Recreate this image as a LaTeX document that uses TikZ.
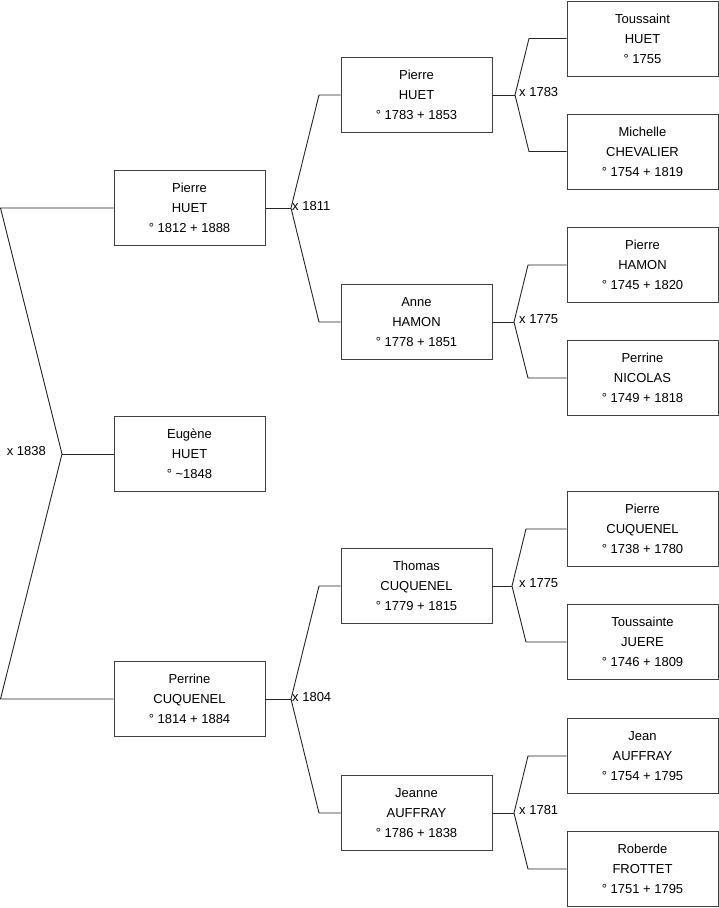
\documentclass[tikz,border=0pt]{standalone}
\usepackage{fontspec}
\setmainfont{Liberation Sans}
\begin{document}
\begin{tikzpicture}[x=1pt,y=-1pt,
  pbox/.style={draw=black!75,line width=0.9pt,minimum width=151pt,minimum height=75pt,
    align=center,inner sep=0pt,font=\fontsize{13}{20}\selectfont,text=black},
  link/.style={draw=black!85,line width=0.9pt},
  mlabel/.style={anchor=west,inner sep=0pt,font=\fontsize{13}{15}\selectfont,text=black}]
\useasboundingbox (0,0) rectangle (719,908);
% generation 1
\node[pbox] (a1) at (189.5,208) {Pierre\\HUET\\° 1812 + 1888};
\node[pbox] (a0) at (189.5,454) {Eugène\\HUET\\° \textasciitilde1848};
\node[pbox] (a2) at (189.5,699) {Perrine\\CUQUENEL\\° 1814 + 1884};
% generation 2
\node[pbox] (b1) at (416.5,95) {Pierre\\HUET\\° 1783 + 1853};
\node[pbox] (b2) at (416.5,322) {Anne\\HAMON\\° 1778 + 1851};
\node[pbox] (b3) at (416.5,586) {Thomas\\CUQUENEL\\° 1779 + 1815};
\node[pbox] (b4) at (416.5,813) {Jeanne\\AUFFRAY\\° 1786 + 1838};
% generation 3
\node[pbox] (c1) at (642.5,38.5) {Toussaint\\HUET\\° 1755};
\node[pbox] (c2) at (642.5,151.5) {Michelle\\CHEVALIER\\° 1754 + 1819};
\node[pbox] (c3) at (642.5,265) {Pierre\\HAMON\\° 1745 + 1820};
\node[pbox] (c4) at (642.5,378) {Perrine\\NICOLAS\\° 1749 + 1818};
\node[pbox] (c5) at (642.5,529) {Pierre\\CUQUENEL\\° 1738 + 1780};
\node[pbox] (c6) at (642.5,642) {Toussainte\\JUERE\\° 1746 + 1809};
\node[pbox] (c7) at (642.5,756) {Jean\\AUFFRAY\\° 1754 + 1795};
\node[pbox] (c8) at (642.5,869) {Roberde\\FROTTET\\° 1751 + 1795};
% union of a1 and a2
\coordinate (v0) at (62,454);
\coordinate (e01) at (0.5,208);
\coordinate (e02) at (0.5,699);
\draw[link] (a1.west) -- (e01) -- (v0) -- (e02) -- (a2.west);
\draw[link] (a0.west) -- (v0);
\node[mlabel,anchor=east] (l0) at (46,451) {x 1838};
% union of b1 and b2
\coordinate (v1) at (291,208);
\coordinate (e11) at (319,95);
\coordinate (e12) at (319,322);
\draw[link] (a1.east) -- (v1);
\draw[link] (b1.west) -- (e11) -- (v1) -- (e12) -- (b2.west);
\node[mlabel] (l1) at (292,206.5) {x 1811};
% union of c1 and c2 (b3/b4)
\coordinate (v2) at (291,699);
\coordinate (e21) at (319,586);
\coordinate (e22) at (319,813);
\draw[link] (a2.east) -- (v2);
\draw[link] (b3.west) -- (e21) -- (v2) -- (e22) -- (b4.west);
\node[mlabel] (l2) at (292,697.5) {x 1804};
% union of c1 and c2
\coordinate (v3) at (515,95);
\coordinate (e31) at (529,38.5);
\coordinate (e32) at (529,151.5);
\draw[link] (b1.east) -- (v3);
\draw[link] (c1.west) -- (e31) -- (v3) -- (e32) -- (c2.west);
\node[mlabel] (l3) at (519,92) {x 1783};
% union of c3 and c4
\coordinate (v4) at (514,322);
\coordinate (e41) at (528,265);
\coordinate (e42) at (528,378);
\draw[link] (b2.east) -- (v4);
\draw[link] (c3.west) -- (e41) -- (v4) -- (e42) -- (c4.west);
\node[mlabel] (l4) at (519,319) {x 1775};
% union of c5 and c6
\coordinate (v5) at (512,586);
\coordinate (e51) at (526,529);
\coordinate (e52) at (526,642);
\draw[link] (b3.east) -- (v5);
\draw[link] (c5.west) -- (e51) -- (v5) -- (e52) -- (c6.west);
\node[mlabel] (l5) at (519,583) {x 1775};
% union of c7 and c8
\coordinate (v6) at (514,813);
\coordinate (e61) at (528,756);
\coordinate (e62) at (528,869);
\draw[link] (b4.east) -- (v6);
\draw[link] (c7.west) -- (e61) -- (v6) -- (e62) -- (c8.west);
\node[mlabel] (l6) at (519,810) {x 1781};
\end{tikzpicture}
\end{document}
